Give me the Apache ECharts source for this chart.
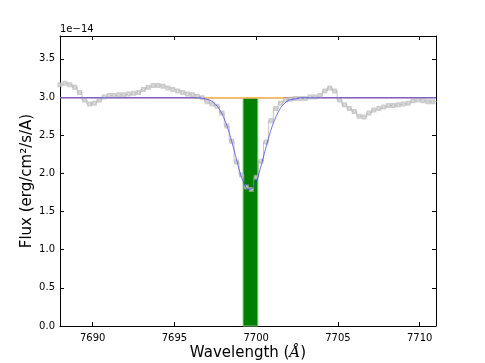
<!DOCTYPE html>
<html>
<head>
<meta charset="utf-8">
<script src="https://cdn.jsdelivr.net/npm/echarts@6/dist/echarts.min.js"></script>
<style>
  html, body { margin: 0; padding: 0; background: #fff; }
  #chart { width: 485px; height: 363px; }
</style>
</head>
<body>
<div id="chart"></div>
<script>
// observed spectrum (Angstrom, flux in 1e-14 erg/cm2/s/A)
const wavelength = [
  7688.0, 7688.3, 7688.6, 7688.9, 7689.2, 7689.5, 7689.8, 7690.1, 7690.4, 7690.7,
  7691.0, 7691.3, 7691.6, 7691.9, 7692.2, 7692.5, 7692.8, 7693.1, 7693.4, 7693.7,
  7694.0, 7694.3, 7694.6, 7694.9, 7695.2, 7695.5, 7695.8, 7696.1, 7696.4, 7696.7,
  7697.0, 7697.3, 7697.6, 7697.9, 7698.2, 7698.5, 7698.8, 7699.1, 7699.4, 7699.7,
  7700.0, 7700.3, 7700.6, 7700.9, 7701.2, 7701.5, 7701.8, 7702.1, 7702.4, 7702.7,
  7703.0, 7703.3, 7703.6, 7703.9, 7704.2, 7704.5, 7704.8, 7705.1, 7705.4, 7705.7,
  7706.0, 7706.3, 7706.6, 7706.9, 7707.2, 7707.5, 7707.8, 7708.1, 7708.4, 7708.7,
  7709.0, 7709.3, 7709.6, 7709.9, 7710.2, 7710.5, 7710.8, 7711.1
]
const flux = [
  3.16, 3.18, 3.16, 3.13, 3.06, 2.96, 2.91, 2.92, 2.96, 3.00,
  3.02, 3.02, 3.03, 3.03, 3.04, 3.05, 3.06, 3.10, 3.13, 3.15,
  3.15, 3.14, 3.12, 3.10, 3.08, 3.06, 3.04, 3.03, 3.01, 2.99,
  2.94, 2.91, 2.88, 2.79, 2.62, 2.42, 2.15, 1.98, 1.82, 1.79,
  1.95, 2.16, 2.41, 2.69, 2.85, 2.92, 2.96, 2.97, 2.98, 2.98,
  2.98, 3.00, 3.00, 3.02, 3.08, 3.12, 3.08, 2.96, 2.90, 2.85,
  2.81, 2.75, 2.74, 2.79, 2.83, 2.85, 2.87, 2.89, 2.89, 2.90,
  2.91, 2.92, 2.95, 2.96, 2.95, 2.94, 2.94, 2.94
]

// gaussian fit
const fitWave = [
  7688.0,
  7696.0, 7696.25, 7696.5, 7696.75, 7697.0, 7697.25, 7697.5, 7697.75,
  7698.0, 7698.25, 7698.5, 7698.75, 7699.0, 7699.25, 7699.5, 7699.75,
  7700.0, 7700.25, 7700.5, 7700.75, 7701.0, 7701.25, 7701.5, 7701.75,
  7702.0, 7702.25, 7702.5, 7702.75,
  7711.0
]
const fitFlux = [
  2.99,
  2.99, 2.99, 2.99, 2.98, 2.97, 2.95, 2.91, 2.84,
  2.74, 2.60, 2.42, 2.22, 2.02, 1.87, 1.79, 1.80,
  1.89, 2.06, 2.26, 2.46, 2.63, 2.76, 2.86, 2.92,
  2.96, 2.97, 2.98, 2.99,
  2.99
]

// continuum and fit window
const contWave = [7688.0, 7711.0]
const contFlux = [2.99, 2.99]
const windowWave = [7696.5, 7701.7]
const windowFlux = [2.99, 2.99]

// integration band
const bandRange = [7699.2, 7700.1]
const bandTop = 2.99

const xTicks = [7690, 7695, 7700, 7705, 7710]
const yTicks = [0, 0.5, 1.0, 1.5, 2.0, 2.5, 3.0, 3.5]

const zip = (xs, ys) => xs.map((x, i) => [x, ys[i]])

const chart = echarts.init(document.getElementById('chart'), null, { renderer: 'canvas' })

const font = 'DejaVu Sans'
const tickStyle = { show: true, inside: true, length: 4, lineStyle: { color: '#000', width: 1 } }
const lineStyle = { show: true, onZero: false, lineStyle: { color: '#000', width: 1 } }

chart.setOption({
  animation: false,
  backgroundColor: '#fff',
  grid: { left: 60, right: 49, top: 36, bottom: 37, containLabel: false, outerBoundsMode: 'none' },
  xAxis: [
    {
      type: 'value', min: 7688, max: 7711, position: 'bottom',
      axisLine: lineStyle,
      axisTick: { ...tickStyle, customValues: xTicks },
      axisLabel: {
        customValues: xTicks, color: '#000', fontFamily: font, fontSize: 10, margin: 7,
        formatter: v => String(v)
      },
      splitLine: { show: false },
      name: 'Wavelength ({i|Å})',
      nameLocation: 'middle', nameGap: 20, nameMoveOverlap: false,
      nameTextStyle: {
        color: '#000', fontFamily: font, fontSize: 15, verticalAlign: 'top',
        rich: { i: { fontFamily: 'DejaVu Serif', fontStyle: 'italic', fontSize: 15, color: '#000' } }
      }
    },
    {
      type: 'value', min: 7688, max: 7711, position: 'top',
      axisLine: lineStyle,
      axisTick: { ...tickStyle, customValues: xTicks },
      axisLabel: { show: false },
      splitLine: { show: false }
    }
  ],
  yAxis: [
    {
      type: 'value', min: 0, max: 3.8, position: 'left',
      axisLine: lineStyle,
      axisTick: { ...tickStyle, customValues: yTicks },
      axisLabel: {
        customValues: yTicks, color: '#000', fontFamily: font, fontSize: 10, margin: 5,
        formatter: v => v.toFixed(1)
      },
      splitLine: { show: false },
      name: 'Flux (erg/cm²/s/A)',
      nameLocation: 'middle', nameGap: 25, nameRotate: 90, nameMoveOverlap: false,
      nameTextStyle: { color: '#000', fontFamily: font, fontSize: 15 }
    },
    {
      type: 'value', min: 0, max: 3.8, position: 'right',
      axisLine: lineStyle,
      axisTick: { ...tickStyle, customValues: yTicks },
      axisLabel: { show: false },
      splitLine: { show: false }
    }
  ],
  graphic: [
    {
      type: 'text', left: 60, top: 24,
      style: { text: '1e\u221214', fill: '#000', font: '10px "DejaVu Sans"' }
    }
  ],
  series: [
    {
      name: 'band', type: 'line', data: [], z: 1,
      markArea: {
        silent: true,
        itemStyle: { color: '#008000', borderColor: '#7fc07f', borderWidth: 1 },
        data: [[{ xAxis: bandRange[0], yAxis: 0 }, { xAxis: bandRange[1], yAxis: bandTop }]]
      }
    },
    {
      name: 'continuum', type: 'line', data: zip(contWave, contFlux), z: 2,
      symbol: 'none', lineStyle: { color: '#c98b8b', width: 1.5 }
    },
    {
      name: 'window', type: 'line', data: zip(windowWave, windowFlux), z: 3,
      symbol: 'none', lineStyle: { color: '#ffbb55', width: 1.5 }
    },
    {
      name: 'spectrum', type: 'line', data: zip(wavelength, flux), z: 4,
      step: 'middle',
      symbol: 'emptyRect', symbolSize: 3, showAllSymbol: true,
      itemStyle: { color: '#b4b4b4', borderWidth: 1, opacity: 0.65 },
      lineStyle: { color: '#a0a0a0', width: 1, opacity: 0.6 }
    },
    {
      name: 'fit', type: 'line', data: zip(fitWave, fitFlux), z: 5,
      symbol: 'none', smooth: 0.3,
      lineStyle: { color: '#3333ff', width: 1, opacity: 0.7 }
    }
  ]
})
</script>
</body>
</html>
